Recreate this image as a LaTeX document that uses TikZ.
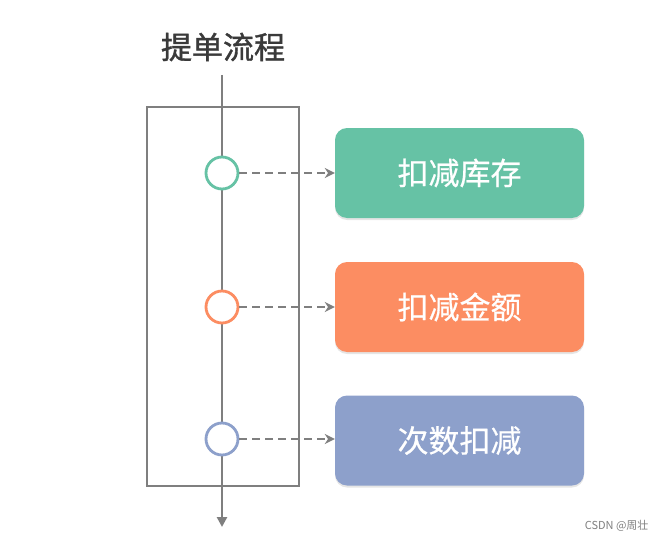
\documentclass[tikz,border=0pt]{standalone}
\usepackage{fontspec}
\newfontfamily\cjk{Noto Sans CJK SC}
\newfontfamily\cjkm[FakeBold=1.2]{Noto Sans CJK SC}
\newfontfamily\cjkb[FakeBold=0.6]{Noto Sans CJK SC}
\usetikzlibrary{arrows.meta,shadows}
\definecolor{lgray}{HTML}{7F7F7F}
\definecolor{cgreen}{HTML}{66C2A5}
\definecolor{corange}{HTML}{FC8D62}
\definecolor{cblue}{HTML}{8DA0CB}
\definecolor{ctitle}{HTML}{3A3A3A}
\tikzset{
  flowline/.style={draw=lgray, line width=2.8pt},
  event/.style={circle, draw=#1, fill=white, line width=2.8pt, minimum size=32pt, inner sep=0pt},
  action/.style={rounded corners=12pt, fill=#1, draw=none, minimum width=249pt, minimum height=90pt,
     text=white, font=\cjkb\fontsize{31}{33}\selectfont,
     drop shadow={shadow xshift=0pt, shadow yshift=-2pt, opacity=0.10, fill=black}},
  dasharrow/.style={draw=lgray, line width=2.8pt, dash pattern=on 8pt off 5pt,
     -{Stealth[length=10pt,width=10pt]}},
}
\begin{document}
\begin{tikzpicture}[x=1pt,y=-1pt]
\useasboundingbox (0,0) rectangle (667,543);
\node[font=\cjkm\fontsize{31}{33}\selectfont, text=ctitle] (title) at (223,47) {提单流程};
\coordinate (top) at (222,75);
\coordinate (bot) at (222,527);
\draw[flowline, fill=white] (147,107) rectangle (299,486);
\draw[flowline, -{Triangle[length=10pt,width=10pt]}] (top) -- (bot);
\node[event=cgreen] (c1) at (222,173) {};
\node[event=corange] (c2) at (222,307) {};
\node[event=cblue] (c3) at (222,439) {};
\node[action=cgreen] (b1) at (459.5,173) {扣减库存};
\node[action=corange] (b2) at (459.5,307) {扣减金额};
\node[action=cblue] (b3) at (459.5,440.5) {次数扣减};
\draw[dasharrow] (c1) -- (c1 -| b1.west);
\draw[dasharrow] (c2) -- (c2 -| b2.west);
\draw[dasharrow] (c3) -- (c3 -| b3.west);
\node[font=\cjk\fontsize{11}{12}\selectfont, text=lgray, anchor=east] (wm) at (652,526) {CSDN @周壮};
\end{tikzpicture}
\end{document}
